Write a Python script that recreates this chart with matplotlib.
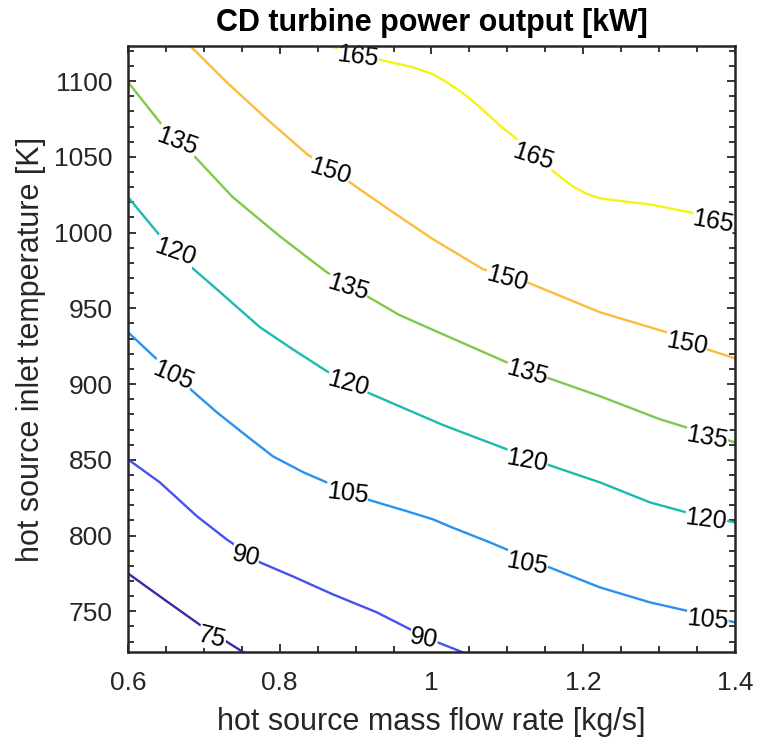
import matplotlib
matplotlib.use('Agg')
import matplotlib.pyplot as plt
from matplotlib.ticker import MultipleLocator

plt.rcParams['font.family'] = ['Liberation Sans', 'DejaVu Sans']

# contour levels [kW] and their lines
levels = [75, 90, 105, 120, 135, 150, 165]
colors = ['#3d27a5', '#4352f0', '#2a92ec', '#19bcad', '#80c84b', '#fbbc3c', '#f4f414']

line_x = {
    75: [0.600, 0.650, 0.695, 0.752],
    90: [0.600, 0.642, 0.691, 0.730, 0.774, 0.817, 0.870, 0.928, 0.998, 1.041],
    105: [0.600, 0.638, 0.678, 0.717, 0.757, 0.791, 0.831, 0.862, 0.915, 0.968,
          1.002, 1.024, 1.077, 1.152, 1.222, 1.288, 1.340, 1.400],
    120: [0.600, 0.646, 0.682, 0.717, 0.774, 0.817, 0.862, 0.915, 0.958, 1.015,
          1.099, 1.152, 1.222, 1.288, 1.336, 1.400],
    135: [0.600, 0.646, 0.691, 0.738, 0.800, 0.862, 0.915, 0.958, 1.024, 1.099,
          1.147, 1.222, 1.301, 1.400],
    150: [0.682, 0.730, 0.783, 0.836, 0.892, 0.949, 1.002, 1.068, 1.126, 1.222,
          1.310, 1.363, 1.400],
    165: [0.866, 0.928, 0.975, 1.002, 1.020, 1.040, 1.060, 1.073, 1.094, 1.116,
          1.140, 1.160, 1.186, 1.205, 1.222, 1.255, 1.288, 1.340, 1.400],
}
line_y = {
    75: [775, 757, 741, 723],
    90: [850.3, 835.1, 812.7, 797.5, 782.3, 773.1, 761.2, 749.3, 731.5, 723],
    105: [934.2, 916.4, 898.5, 881.4, 865.5, 852.3, 841.8, 835.1, 823.9, 816,
          810.7, 806, 795.5, 779.7, 765.8, 755.9, 750, 742.7],
    120: [1023.4, 995.6, 977.8, 962.6, 937.5, 923, 908.5, 894.6, 885.3, 873,
          857, 847, 835.1, 821.9, 815.3, 808.7],
    135: [1099.3, 1070.3, 1048.5, 1023.4, 997.6, 973.8, 958, 945.5, 930.9, 914.4,
          905.2, 892, 876.8, 861.5],
    150: [1123.2, 1099.3, 1074.9, 1051.8, 1033.3, 1013.5, 995.6, 975.8, 967.2, 947.4,
          934.2, 923, 917],
    165: [1123.2, 1114.5, 1109.2, 1104.6, 1099.3, 1092.5, 1084.5, 1078.5, 1069, 1060.4,
          1048.5, 1040.6, 1030.5, 1025.5, 1022.6, 1020.5, 1018.6, 1013.5, 1002],
}

# inline labels: level, x, y, angle
label_lvl = [165, 165, 165, 150, 150, 150, 135, 135, 135, 135,
             120, 120, 120, 120, 105, 105, 105, 105, 90, 90, 75]
label_x = [0.903, 1.134, 1.371, 0.866, 1.099, 1.336, 0.665, 0.890, 1.126, 1.363,
           0.662, 0.890, 1.126, 1.362, 0.659, 0.889, 1.126, 1.364, 0.755, 0.990, 0.711]
label_y = [1115.9, 1049.8, 1006.9, 1040.6, 969.9, 926.9, 1060.4, 963.9, 907.8, 864.9,
           987.0, 900.5, 849.7, 810.7, 905.8, 827.9, 781.6, 744.6, 786.3, 732.1, 732.8]
label_rot = [-7, -18, -10, -17, -15, -10, -20, -17, -15, -10,
             -19, -15, -10, -7, -23, -7, -10, -5, -13, -10, -14]

fig = plt.figure(figsize=(7.57, 7.42), dpi=100)
ax = fig.add_axes([0.1691, 0.1213, 0.8018, 0.8167])

for lvl, c in zip(levels, colors):
    ax.plot(line_x[lvl], line_y[lvl], color=c, lw=1.7, zorder=2)

for lvl, x, y, r in zip(label_lvl, label_x, label_y, label_rot):
    ax.text(x, y, str(lvl), rotation=r, rotation_mode='anchor', ha='center', va='center',
            fontsize=18, zorder=2.2,
            bbox=dict(facecolor='white', edgecolor='none', pad=0.2))

ax.set_xlim(0.6, 1.4)
ax.set_ylim(723.15, 1123.15)
ax.set_xticks([0.6, 0.8, 1.0, 1.2, 1.4])
ax.set_xticklabels(['0.6', '0.8', '1', '1.2', '1.4'])
ax.set_yticks(range(750, 1101, 50))
ax.xaxis.set_minor_locator(MultipleLocator(0.05))
ax.yaxis.set_minor_locator(MultipleLocator(10))
ax.tick_params(which='both', direction='in', top=True, right=True, color='#262626', width=1.3)
ax.tick_params(which='major', length=6, labelsize=19, labelcolor='#262626')
ax.tick_params(axis='x', which='major', pad=14)
ax.tick_params(axis='y', which='major', pad=11)
ax.tick_params(which='minor', length=4)
for s in ax.spines.values():
    s.set_linewidth(1.8)
    s.set_color('#262626')

ax.set_xlabel('hot source mass flow rate [kg/s]', fontsize=22, color='#262626', labelpad=8)
ax.set_ylabel('hot source inlet temperature [K]', fontsize=22, color='#262626', labelpad=6)
ax.set_title('CD turbine power output [kW]', fontsize=22, fontweight='bold', pad=11)

fig.savefig('out.png', dpi=100)
